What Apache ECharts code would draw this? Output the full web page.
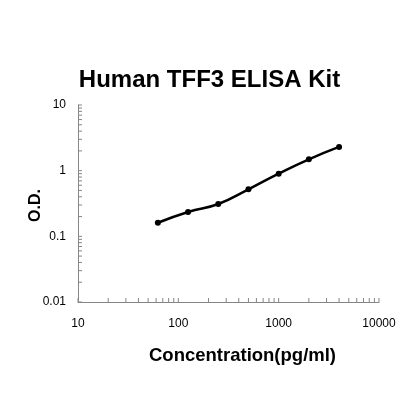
<!DOCTYPE html>
<html><head><meta charset="utf-8">
<script src="https://cdn.jsdelivr.net/npm/echarts@6/dist/echarts.min.js"></script>
<style>html,body{margin:0;padding:0;background:#fff}#c{width:419px;height:420px}</style>
</head><body><div id="c"></div>
<script>
var concentrations = [62.5, 125, 250, 500, 1000, 2000, 4000];
var odValues = [0.161, 0.235, 0.311, 0.521, 0.90, 1.49, 2.30];
var xTickLabels = [10, 100, 1000, 10000];
var yTickLabels = [0.01, 0.1, 1, 10];
var xMinorTicks = [20,30,40,50,60,70,80,90,200,300,400,500,600,700,800,900,2000,3000,4000,5000,6000,7000,8000,9000];
var yMinorTicks = [0.02,0.03,0.04,0.05,0.06,0.07,0.08,0.09,0.2,0.3,0.4,0.5,0.6,0.7,0.8,0.9,2,3,4,5,6,7,8,9];

var font = '"Liberation Sans", Arial, sans-serif';
var axisColor = '#868686';
var tickData = [];
xMinorTicks.forEach(function(v){ tickData.push([v, yTickLabels[0], 0]); });
xTickLabels.forEach(function(v){ tickData.push([v, yTickLabels[0], 0]); });
yMinorTicks.forEach(function(v){ tickData.push([xTickLabels[0], v, 1]); });
yTickLabels.forEach(function(v){ tickData.push([xTickLabels[0], v, 1]); });

var chart = echarts.init(document.getElementById('c'));
chart.setOption({
  animation: false,
  title: {
    text: 'Human TFF3 ELISA Kit', left: 'center', top: 63,
    textStyle: {fontFamily: font, fontSize: 24, fontWeight: 'bold', color: '#000'}
  },
  grid: {left: 78, right: 40, top: 105, bottom: 118, containLabel: false},
  xAxis: {
    type: 'log', logBase: 10, min: 10, max: 10000,
    name: 'Concentration(pg/ml)', nameLocation: 'middle', nameGap: 44,
    nameMoveOverlap: false,
    nameTextStyle: {fontFamily: font, fontSize: 18.5, fontWeight: 'bold', color: '#000', padding: [0, 0, 0, 28]},
    axisLine: {show: true, lineStyle: {color: axisColor, width: 1}},
    axisTick: {show: false},
    minorTick: {show: false},
    splitLine: {show: false},
    axisLabel: {fontFamily: font, fontSize: 12, color: '#000', margin: 16,
      formatter: function(v){ return String(v); }}
  },
  yAxis: {
    type: 'log', logBase: 10, min: 0.01, max: 10,
    name: 'O.D.', nameLocation: 'middle', nameGap: 34, nameRotate: 90,
    nameMoveOverlap: false,
    nameTextStyle: {fontFamily: font, fontSize: 16, fontWeight: 'bold', color: '#000', padding: [0, 4, 0, 0]},
    axisLine: {show: true, lineStyle: {color: axisColor, width: 1}},
    axisTick: {show: false},
    minorTick: {show: false},
    splitLine: {show: false},
    axisLabel: {fontFamily: font, fontSize: 12, color: '#000', margin: 12,
      formatter: function(v){ return String(v); }}
  },
  series: [
    {
      type: 'custom', silent: true, clip: false, z: 1,
      data: tickData,
      renderItem: function(params, api){
        var p = api.coord([api.value(0), api.value(1)]);
        var isY = api.value(2) === 1;
        var len = 4;
        return {
          type: 'line',
          shape: isY ? {x1: p[0], y1: p[1], x2: p[0] + len, y2: p[1]}
                     : {x1: p[0], y1: p[1], x2: p[0], y2: p[1] - len},
          style: {stroke: axisColor, lineWidth: 1}
        };
      }
    },
    {
      type: 'line', smooth: true, z: 3,
      data: concentrations.map(function(c, i){ return [c, odValues[i]]; }),
      symbol: 'circle', symbolSize: 6,
      lineStyle: {color: '#000', width: 2.5},
      itemStyle: {color: '#000'}
    }
  ]
});
</script></body></html>
